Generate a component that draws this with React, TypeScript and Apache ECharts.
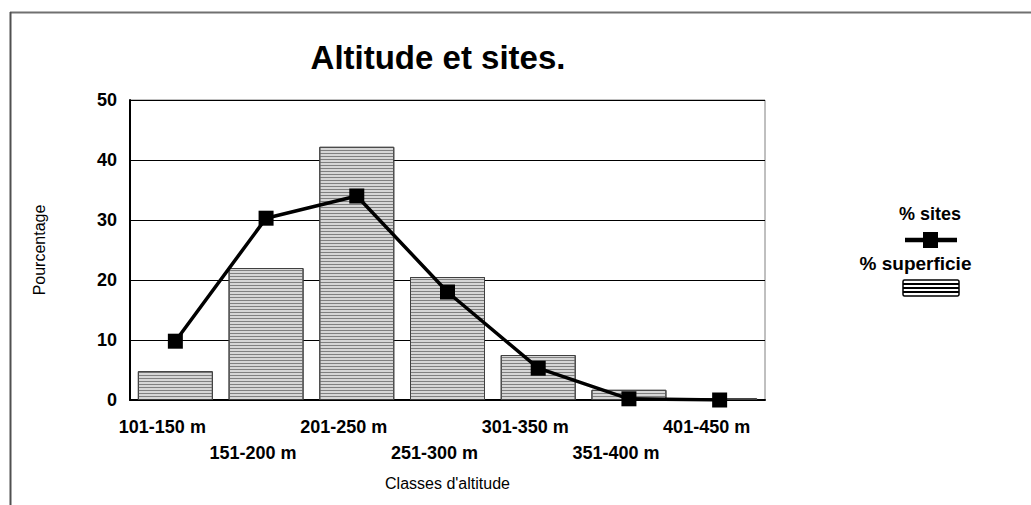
import React, { useEffect, useRef } from "react";
import * as echarts from "echarts";

const categories = ["101-150 m", "151-200 m", "201-250 m", "251-300 m", "301-350 m", "351-400 m", "401-450 m"];
const superficie = [4.8, 22, 42.2, 20.5, 7.5, 1.7, 0.3];
const sites = [9.8, 30.3, 34, 18, 5.3, 0.2, 0];
const yTicks = [0, 10, 20, 30, 40, 50];

const FONT = "Liberation Sans, Arial, sans-serif";

export default function App() {
  const ref = useRef<HTMLDivElement>(null);
  useEffect(() => {
    if (!ref.current) return;
    const chart = echarts.init(ref.current, null, { renderer: "svg" });
    const legendX = 903;
    chart.setOption({
      animation: false,
      backgroundColor: "#ffffff",
      textStyle: { fontFamily: FONT },
      title: {
        text: "Altitude et sites.",
        left: 433,
        top: 36,
        textAlign: "center",
        textStyle: { fontSize: 33, fontWeight: "bold", color: "#000", fontFamily: FONT },
      },
      grid: {
        left: 130,
        right: 266,
        top: 100,
        bottom: 105,
        show: true,
        borderColor: "#808080",
        borderWidth: 1,
        backgroundColor: "transparent",
      },
      xAxis: {
        type: "category",
        data: categories,
        name: "Classes d'altitude",
        nameLocation: "middle",
        nameGap: 75,
        nameTextStyle: { fontSize: 16, color: "#000", fontFamily: FONT },
        axisLine: { lineStyle: { color: "#000", width: 2 } },
        axisTick: { show: false },
        axisLabel: {
          interval: 0,
          margin: 14,
          lineHeight: 26,
          fontSize: 18,
          fontWeight: "bold",
          color: "#000",
          fontFamily: FONT,
          padding: [0, 26, 0, 0],
          formatter: (v: string, i: number) => (i % 2 === 1 ? "\n" + v : v),
        },
      },
      yAxis: {
        type: "value",
        min: yTicks[0],
        max: yTicks[yTicks.length - 1],
        interval: 10,
        name: "Pourcentage",
        nameLocation: "middle",
        nameGap: 83,
        nameTextStyle: { fontSize: 16, color: "#000", fontFamily: FONT },
        axisLine: { show: true, lineStyle: { color: "#000", width: 2 } },
        axisTick: { show: false },
        axisLabel: { fontSize: 18, fontWeight: "bold", color: "#000", margin: 13, fontFamily: FONT },
        splitLine: { lineStyle: { color: "#000", width: 1 } },
      },
      series: [
        {
          name: "% superficie",
          type: "bar",
          data: superficie,
          barWidth: 75,
          itemStyle: {
            color: "#d6d6d6",
            borderColor: "#404040",
            borderWidth: 1,
            decal: {
              symbol: "rect",
              symbolSize: 1,
              dashArrayX: [[1, 0]],
              dashArrayY: [1, 2],
              color: "#808080",
              rotation: 0,
            },
          },
          z: 2,
        },
        {
          name: "% sites",
          type: "line",
          data: sites,
          symbol: "rect",
          symbolSize: 15,
          lineStyle: { color: "#000", width: 3.5 },
          itemStyle: { color: "#000" },
          z: 3,
        },
      ],
      graphic: [
        { type: "line", shape: { x1: 10, y1: 12.5, x2: 1031, y2: 12.5 }, style: { stroke: "#707070", lineWidth: 2 } },
        { type: "line", shape: { x1: 10.5, y1: 12, x2: 10.5, y2: 505 }, style: { stroke: "#505050", lineWidth: 2 } },
        {
          type: "text",
          x: 930,
          y: 214,
          style: { text: "% sites", fontSize: 18, fontWeight: "bold", fill: "#000", align: "center", verticalAlign: "middle", fontFamily: FONT },
        },
        { type: "line", shape: { x1: legendX + 2, y1: 240, x2: legendX + 54, y2: 240 }, style: { stroke: "#000", lineWidth: 4.5 } },
        { type: "rect", shape: { x: 923, y: 232, width: 15, height: 16 }, style: { fill: "#000" } },
        {
          type: "text",
          x: 915.5,
          y: 263,
          style: { text: "% superficie", fontSize: 19, fontWeight: "bold", fill: "#000", align: "center", verticalAlign: "middle", fontFamily: FONT },
        },
        { type: "rect", shape: { x: legendX, y: 280, width: 56, height: 16, r: 1.5 }, style: { fill: "#fff", stroke: "#000", lineWidth: 1.5 } },
        { type: "line", shape: { x1: legendX, y1: 284, x2: legendX + 56, y2: 284 }, style: { stroke: "#000", lineWidth: 2 } },
        { type: "line", shape: { x1: legendX, y1: 288, x2: legendX + 56, y2: 288 }, style: { stroke: "#000", lineWidth: 2 } },
        { type: "line", shape: { x1: legendX, y1: 292, x2: legendX + 56, y2: 292 }, style: { stroke: "#000", lineWidth: 2 } },
      ],
    });
    return () => chart.dispose();
  }, []);
  return <div ref={ref} style={{ position: "fixed", left: 0, top: 0, width: 1031, height: 505 }} />;
}
